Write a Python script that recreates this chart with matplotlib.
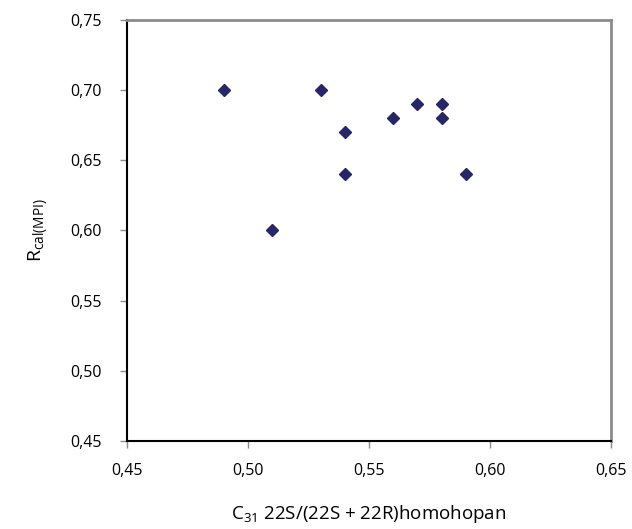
import matplotlib
matplotlib.use("Agg")
import matplotlib.pyplot as plt

x_vals = [0.49, 0.53, 0.51, 0.54, 0.54, 0.56, 0.57, 0.58, 0.58, 0.59]
y_vals = [0.70, 0.70, 0.60, 0.67, 0.64, 0.68, 0.69, 0.69, 0.68, 0.64]
x_ticks = [0.45, 0.50, 0.55, 0.60, 0.65]
y_ticks = [0.45, 0.50, 0.55, 0.60, 0.65, 0.70, 0.75]

plt.rcParams['font.family'] = ['Open Sans', 'DejaVu Sans']

fig = plt.figure(figsize=(6.32, 5.29), dpi=100)
ax = fig.add_axes([127/632, 1-441/529, (611-127)/632, (441-20)/529])

ax.plot(x_vals, y_vals, linestyle='none', marker='D', markersize=6.2,
        color='#262669', markeredgecolor='#262669')

ax.set_xlim(0.45, 0.65)
ax.set_ylim(0.45, 0.75)
ax.set_xticks(x_ticks)
ax.set_yticks(y_ticks)
ax.set_xticklabels([f"{v:.2f}".replace('.', ',') for v in x_ticks], fontsize=11.5)
ax.set_yticklabels([f"{v:.2f}".replace('.', ',') for v in y_ticks], fontsize=11.5)
ax.tick_params(axis='both', direction='out', length=5, width=1, color='#8c8c8c')
ax.tick_params(axis='y', pad=13)
ax.tick_params(axis='x', pad=11)

for s in ['left', 'bottom']:
    ax.spines[s].set_color('black')
    ax.spines[s].set_linewidth(1.5)
for s in ['top', 'right']:
    ax.spines[s].set_color('#8c8c8c')
    ax.spines[s].set_linewidth(2)

ax.set_xlabel(r'C$_{\mathregular{31}}$ 22S/(22S + 22R)homohopan', fontsize=13.5, labelpad=17)
ax.set_ylabel(r'R$_{\mathregular{cal(MPI)}}$', fontsize=14, labelpad=14)

fig.savefig('out.png', dpi=100)
